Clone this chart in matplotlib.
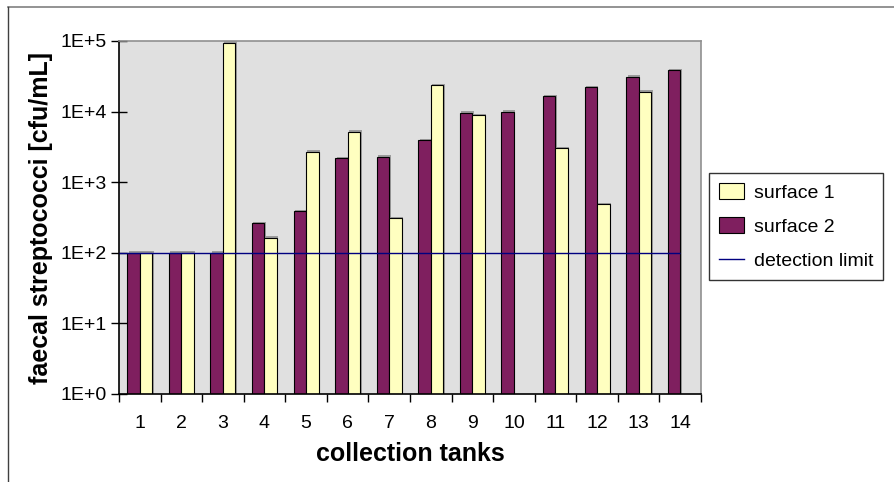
import numpy as np
import matplotlib.pyplot as plt
import matplotlib.patches as mpatches
import matplotlib.patheffects as pe
from matplotlib.lines import Line2D
from matplotlib.ticker import FixedLocator, FuncFormatter, NullFormatter

plt.rcParams["font.family"] = ["Liberation Sans", "DejaVu Sans"]

tanks = [str(i) for i in range(1, 15)]
# surface 1 (light yellow), nan = no bar
surface1 = [100, 100, 95000, 164, 2700, 5200, 308, 23800, 8950, np.nan,
            3020, 490, 19100, np.nan]
# surface 2 (purple)
surface2 = [100, 100, 100, 262, 391, 2180, 2300, 3960, 9660, 9970,
            16600, 22300, 31200, 38800]
detection_limit = 100

PURPLE = "#7F1F5F"
YELLOW = "#FFFFC0"
BLUE = "#000080"

W, H = 895, 482
fig = plt.figure(figsize=(W / 100, H / 100), dpi=100)

# outer chart frame (cropped at right/bottom)
fig.add_artist(Line2D([8 / W, 1], [1 - 7 / H] * 2, transform=fig.transFigure,
                      color="#808080", lw=1.2))
fig.add_artist(Line2D([8 / W] * 2, [0, 1 - 7 / H], transform=fig.transFigure,
                      color="#404040", lw=1.0))

ax = fig.add_axes([119 / W, 1 - 394 / H, (701 - 119) / W, (394 - 41) / H])
ax.set_facecolor("#E0E0E0")
ax.set_yscale("log")

x = np.arange(1, len(tanks) + 1)
bw = 0.3
shadow = [pe.SimplePatchShadow(offset=(1.0, 1.0), shadow_rgbFace="#808080", alpha=0.7),
          pe.Normal()]
b2 = ax.bar(x - bw / 2, surface2, bw, color=PURPLE, edgecolor="black", lw=0.8,
            label="surface 2", zorder=2)
b1 = ax.bar(x + bw / 2, surface1, bw, color=YELLOW, edgecolor="black", lw=0.8,
            label="surface 1", zorder=2)
for bars in (b1, b2):
    for p in bars:
        p.set_path_effects(shadow)

ax.hlines(detection_limit, 0.5, len(tanks), color=BLUE, lw=1.0, zorder=3)

ax.set_xlim(0.5, len(tanks) + 0.5)
ax.set_ylim(1, 1e5)

# y axis
ax.yaxis.set_major_locator(FixedLocator([10.0 ** k for k in range(6)]))
ax.yaxis.set_major_formatter(FuncFormatter(lambda v, _: f"1E+{int(round(np.log10(v)))}"))
ax.yaxis.set_minor_locator(FixedLocator([]))
ax.tick_params(axis="y", which="major", direction="inout", length=12, width=1,
               labelsize=14, pad=3)

# x axis: tick marks between categories, labels at centers
ax.xaxis.set_major_locator(FixedLocator(np.arange(0.5, len(tanks) + 1, 1)))
ax.xaxis.set_major_formatter(NullFormatter())
ax.xaxis.set_minor_locator(FixedLocator(x))
ax.set_xticklabels(tanks, minor=True)
ax.tick_params(axis="x", which="major", direction="out", length=6, width=1)
ax.tick_params(axis="x", which="minor", length=0, labelsize=14, pad=15)

for s in ("left", "bottom"):
    ax.spines[s].set_color("black")
    ax.spines[s].set_linewidth(1.2)
for s in ("top", "right"):
    ax.spines[s].set_color("#909090")
    ax.spines[s].set_linewidth(1.2)

ax.set_xlabel("collection tanks", fontsize=18, fontweight="bold", labelpad=7)
ax.set_ylabel("faecal streptococci [cfu/mL]", fontsize=18, fontweight="bold",
              labelpad=5)

handles = [
    mpatches.Patch(facecolor=YELLOW, edgecolor="black", lw=0.8),
    mpatches.Patch(facecolor=PURPLE, edgecolor="black", lw=0.8),
    Line2D([0], [0], color=BLUE, lw=1.0),
]
leg = fig.legend(handles, ["surface 1", "surface 2", "detection limit"],
                 loc="upper left", bbox_to_anchor=(709 / W, 1 - 173 / H),
                 fontsize=14, frameon=True, fancybox=False, edgecolor="black",
                 handlelength=1.3, handleheight=0.9, handletextpad=0.5,
                 labelspacing=0.8, borderpad=0.5, borderaxespad=0)
leg.get_frame().set_linewidth(1.0)

fig.savefig("out.png", dpi=100)
